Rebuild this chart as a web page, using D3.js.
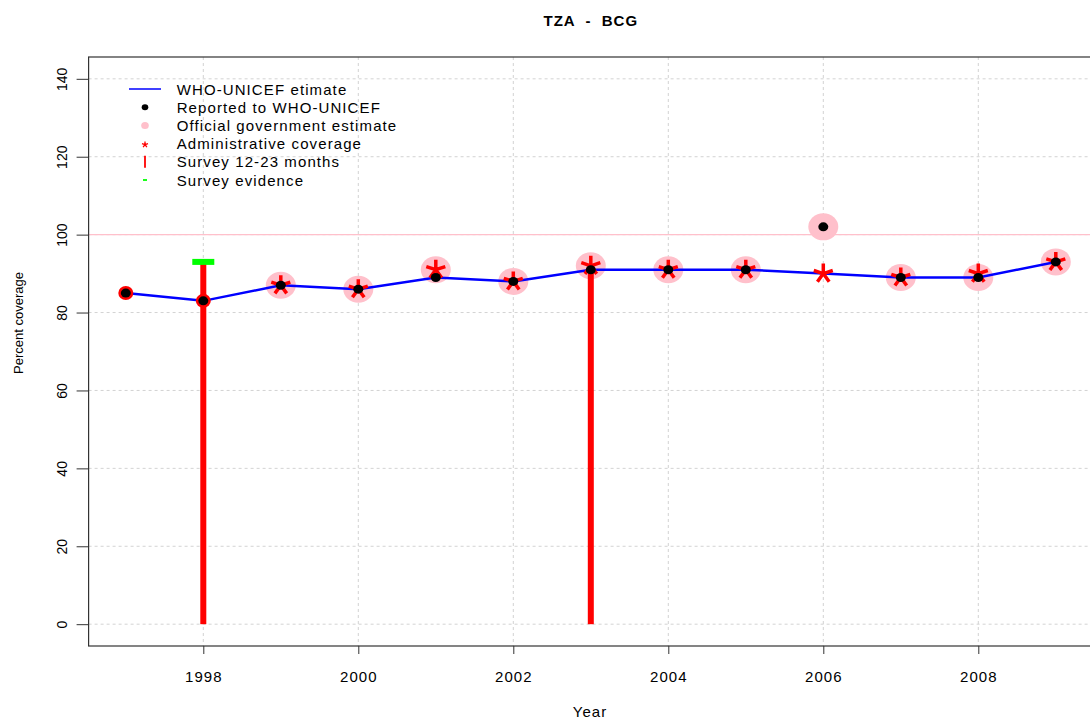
<!DOCTYPE html>
<html>
<head>
<meta charset="utf-8">
<script src="https://cdn.jsdelivr.net/npm/d3@7"></script>
<style>
  body { margin: 0; background: #fff; }
  text { font-family: "Liberation Sans", Arial, sans-serif; fill: #000; }
</style>
</head>
<body>
<svg id="chart"></svg>
<script>
const years = [1997, 1998, 1999, 2000, 2001, 2002, 2003, 2004, 2005, 2006, 2007, 2008, 2009]
const whoEstimate = [85, 83, 87, 86, 89, 88, 91, 91, 91, 90, 89, 89, 93]
const reported = [85, 83, 87, 86, 89, 88, 91, 91, 91, 102, 89, 89, 93]
const official = [null, null, 87, 86, 91, 88, 92, 91, 91, 102, 89, 89, 93]
const admin = [null, null, 87, 86, 91, 88, 92, 91, 91, 90, 89, 90, 93]
const adminDot = [85, 83, null, null, null, null, null, null, null, null, null, null, null]
const surveyYears = [1998, 2003]
const survey = [93, 91]
const evidenceYears = [1998]
const evidence = [93]
const xTicks = [1998, 2000, 2002, 2004, 2006, 2008]
const yTicks = [0, 20, 40, 60, 80, 100, 120, 140]
const legendLabels = ["WHO-UNICEF etimate", "Reported to WHO-UNICEF", "Official government estimate",
                      "Administrative coverage", "Survey 12-23 months", "Survey evidence"]

const width = 1090, height = 719
const margin = {top: 57, left: 88.6, right: -3, bottom: 73}

const svg = d3.select("#chart").attr("width", width).attr("height", height)

const x = d3.scaleLinear().domain([1996.52, 2009.48]).range([margin.left, width - margin.right])
const y = d3.scaleLinear().domain([-5.6, 145.6]).range([height - margin.bottom, margin.top])

const pts = arr => years.map((yr, i) => ({year: yr, v: arr[i]})).filter(d => d.v != null)

// grid
svg.append("g").selectAll("line.hgrid")
    .data(yTicks).join("line")
    .attr("x1", margin.left).attr("x2", width)
    .attr("y1", d => y(d)).attr("y2", d => y(d))
    .style("stroke", "#d3d3d3").style("stroke-dasharray", "3,3")
svg.append("g").selectAll("line.vgrid")
    .data(xTicks).join("line")
    .attr("x1", d => x(d)).attr("x2", d => x(d))
    .attr("y1", margin.top).attr("y2", height - margin.bottom)
    .style("stroke", "#d3d3d3").style("stroke-dasharray", "3,3")

svg.append("line")
    .attr("x1", margin.left).attr("x2", width)
    .attr("y1", y(100)).attr("y2", y(100))
    .style("stroke", "#ffc0cb").style("stroke-width", 1.2)

// official government estimate
svg.append("g").selectAll("ellipse")
    .data(pts(official)).join("ellipse")
    .attr("cx", d => x(d.year)).attr("cy", d => y(d.v))
    .attr("rx", 15).attr("ry", 13.5)
    .style("fill", "#ffc0cb")

// surveys
svg.append("g").selectAll("rect")
    .data(surveyYears.map((yr, i) => ({year: yr, v: survey[i]}))).join("rect")
    .attr("x", d => x(d.year) - 3).attr("width", 6)
    .attr("y", d => y(d.v)).attr("height", d => y(0) - y(d.v))
    .style("fill", "#ff0000")

svg.append("g").selectAll("rect")
    .data(evidenceYears.map((yr, i) => ({year: yr, v: evidence[i]}))).join("rect")
    .attr("x", d => x(d.year) - 11).attr("width", 22)
    .attr("y", d => y(d.v) - 3).attr("height", 6)
    .style("fill", "#00ff00")

// WHO-UNICEF line
const line = d3.line().x(d => x(d.year)).y(d => y(d.v))
svg.append("path")
    .datum(pts(whoEstimate))
    .attr("d", line)
    .style("fill", "none").style("stroke", "#0000ff").style("stroke-width", 2.5)

// admin coverage star
const starPath = r => {
    let p = ""
    for (let k = 0; k < 5; k++) {
        const a = -Math.PI / 2 + k * 2 * Math.PI / 5
        p += `M0,0L${(r * Math.cos(a)).toFixed(2)},${(r * Math.sin(a)).toFixed(2)}`
    }
    return p
}
svg.append("g").selectAll("path")
    .data(pts(admin)).join("path")
    .attr("transform", d => `translate(${x(d.year)},${y(d.v)})`)
    .attr("d", starPath(10))
    .style("stroke", "#ff0000").style("stroke-width", 3.5).style("fill", "none")

svg.append("g").selectAll("ellipse")
    .data(pts(adminDot)).join("ellipse")
    .attr("cx", d => x(d.year)).attr("cy", d => y(d.v))
    .attr("rx", 7.5).attr("ry", 7)
    .style("fill", "#ff0000")

// reported
svg.append("g").selectAll("ellipse")
    .data(pts(reported)).join("ellipse")
    .attr("cx", d => x(d.year)).attr("cy", d => y(d.v))
    .attr("rx", 5).attr("ry", 4.5)
    .style("fill", "#000")

// box
svg.append("rect")
    .attr("x", margin.left).attr("y", margin.top)
    .attr("width", width - margin.right - margin.left)
    .attr("height", height - margin.bottom - margin.top)
    .style("fill", "none").style("stroke", "#333").style("stroke-width", 1.2)

// axes
const xAxis = svg.append("g")
    .attr("transform", `translate(0,${height - margin.bottom})`)
    .call(d3.axisBottom(x).tickValues(xTicks).tickFormat(d3.format("d")).tickSize(8).tickPadding(17))
xAxis.select(".domain").remove()
xAxis.selectAll("text").style("font-size", "15px").style("letter-spacing", "1px")
    .style("font-family", '"Liberation Sans", Arial, sans-serif')
xAxis.selectAll("line").style("stroke", "#333")

const yAxis = svg.append("g")
    .attr("transform", `translate(${margin.left},0)`)
    .call(d3.axisLeft(y).tickValues(yTicks).tickSize(12).tickFormat(d3.format("d")))
yAxis.select(".domain").remove()
yAxis.selectAll("line").style("stroke", "#333")
yAxis.selectAll("text")
    .attr("x", null).attr("dy", null)
    .attr("transform", "translate(-22,0) rotate(-90)")
    .attr("text-anchor", "middle")
    .style("font-size", "14px")
    .style("font-family", '"Liberation Sans", Arial, sans-serif')

// titles
svg.append("text").text("TZA  -  BCG")
    .attr("x", (margin.left + width - margin.right) / 2).attr("y", 26)
    .attr("text-anchor", "middle")
    .style("font-size", "15px").style("font-weight", "bold").style("letter-spacing", "1px")
    .style("white-space", "pre")
svg.append("text").text("Year")
    .attr("x", 590).attr("y", 717)
    .attr("text-anchor", "middle")
    .style("font-size", "15px").style("letter-spacing", "1px")
svg.append("text").text("Percent coverage")
    .attr("transform", "translate(23,323) rotate(-90)")
    .attr("text-anchor", "middle")
    .style("font-size", "13px")

// legend
const legendY = d3.scalePoint().domain(legendLabels).range([89, 180])
const legend = svg.append("g")
legend.selectAll("text")
    .data(legendLabels).join("text")
    .text(d => d)
    .attr("x", 176.7).attr("y", d => legendY(d) + 5.5)
    .style("font-size", "15px").style("letter-spacing", "1.1px")

const lx = 145
legend.append("line")
    .attr("x1", lx - 16).attr("x2", lx + 16)
    .attr("y1", legendY(legendLabels[0])).attr("y2", legendY(legendLabels[0]))
    .style("stroke", "#0000ff").style("stroke-width", 1.5)
legend.append("ellipse").attr("cx", lx).attr("cy", legendY(legendLabels[1]))
    .attr("rx", 3.3).attr("ry", 3).style("fill", "#000")
legend.append("ellipse").attr("cx", lx).attr("cy", legendY(legendLabels[2]))
    .attr("rx", 3.8).attr("ry", 3.5).style("fill", "#ffc0cb")
legend.append("path")
    .attr("transform", `translate(${lx},${legendY(legendLabels[3]) + 1})`)
    .attr("d", starPath(3.2))
    .style("stroke", "#ff0000").style("stroke-width", 1.3).style("fill", "none")
legend.append("line")
    .attr("x1", lx).attr("x2", lx)
    .attr("y1", legendY(legendLabels[4]) - 6).attr("y2", legendY(legendLabels[4]) + 6)
    .style("stroke", "#ff0000").style("stroke-width", 1.8)
legend.append("line")
    .attr("x1", lx - 2).attr("x2", lx + 2)
    .attr("y1", legendY(legendLabels[5])).attr("y2", legendY(legendLabels[5]))
    .style("stroke", "#00ff00").style("stroke-width", 1.8)
</script>
</body>
</html>
